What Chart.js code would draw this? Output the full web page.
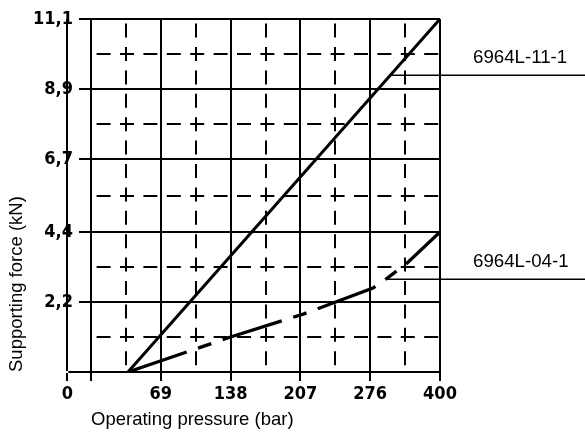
<!DOCTYPE html>
<html><head><meta charset="utf-8">
<script src="https://cdn.jsdelivr.net/npm/chart.js@4"></script>
<style>html,body{margin:0;padding:0;background:#fff}</style>
</head><body>
<canvas id="c" width="585" height="432"></canvas>
<script>
// x positions are given in grid columns (the pressure axis is schematic: 0, 69, 138, 207, 276, 400 bar)
const xTickPos = [-0.34, 0, 1, 2, 3, 4, 5];
const xTickLabels = ['0', '', '69', '138', '207', '276', '400'];
const xMinorPos = [0.5, 1.5, 2.5, 3.5, 4.5];
const yTickVals = [0, 2.2, 4.4, 6.7, 8.9, 11.1];
const yTickLabels = ['', '2,2', '4,4', '6,7', '8,9', '11,1'];
const yMinorVals = [1.1, 3.3, 5.55, 7.8, 10.0];
const seriesNames = ['6964L-11-1', '6964L-04-1'];
const s1X = [0.53, 5];
const s1Y = [0, 11.1];
const s2X = [0.53, 2, 3.04, 4.04, 4.25, 4.53, 5];
const s2Y = [0, 1.1, 1.82, 2.64, 2.96, 3.43, 4.4];
const leaderX = [4.28, 4.25];
const leaderY = [9.35, 2.94];

const near = (arr, v) => arr.findIndex(m => Math.abs(m - v) < 1e-6);
const tickFont = {family: "'Liberation Sans Narrow','DejaVu Sans Condensed',sans-serif", size: 18, weight: 'bold'};
const titleFont = {family: "'Liberation Sans',Arial,sans-serif", size: 18.5};

const annot = {
  id: 'annot',
  afterDraw(chart) {
    const {ctx, scales: {x, y}, chartArea} = chart;
    ctx.save();
    ctx.strokeStyle = '#000';
    ctx.lineWidth = 2;
    const y0 = Math.round(y.getPixelForValue(0));
    ctx.beginPath();
    ctx.moveTo(x.getPixelForValue(xTickPos[0]) + 1, y0);
    ctx.lineTo(chartArea.left, y0);
    ctx.stroke();
    ctx.lineWidth = 1.5;
    ctx.fillStyle = '#000';
    ctx.font = "18.7px 'Liberation Sans',Arial,sans-serif";
    ctx.textBaseline = 'middle';
    ctx.textAlign = 'left';
    for (let i = 0; i < seriesNames.length; i++) {
      const px = x.getPixelForValue(leaderX[i]);
      const py = Math.round(y.getPixelForValue(leaderY[i])) + 0.25;
      ctx.beginPath();
      ctx.moveTo(px, py);
      ctx.lineTo(chart.width, py);
      ctx.stroke();
      ctx.fillText(seriesNames[i], chartArea.right + 33, py - 17);
    }
    ctx.restore();
  }
};

new Chart(document.getElementById('c'), {
  type: 'line',
  data: {
    datasets: [
      {label: seriesNames[0], data: s1X.map((v, i) => ({x: v, y: s1Y[i]})), borderColor: '#000', borderWidth: 3, pointRadius: 0, fill: false},
      {label: seriesNames[1], data: s2X.map((v, i) => ({x: v, y: s2Y[i]})), borderColor: '#000', borderWidth: 3.3, borderDash: [62, 12, 14, 12], pointRadius: 0, fill: false}
    ]
  },
  options: {
    responsive: false, animation: false, devicePixelRatio: 1,
    layout: {padding: {left: 0, top: 19, right: 145, bottom: 0}},
    plugins: {legend: {display: false}, tooltip: {enabled: false}},
    scales: {
      x: {
        type: 'linear', min: 0, max: 5,
        afterBuildTicks: s => { s.ticks = [...xTickPos, ...xMinorPos].sort((a, b) => a - b).map(v => ({value: v})); },
        afterFit: s => { s.height = 60; },
        ticks: {autoSkip: false, maxRotation: 0, padding: 3, color: '#000', font: tickFont,
          callback: v => { const i = near(xTickPos, v); return i >= 0 ? xTickLabels[i] : ''; }},
        grid: {color: '#000', lineWidth: 2, tickLength: 9,
          tickColor: c => (c.tick && near(xMinorPos, c.tick.value) >= 0) ? 'rgba(0,0,0,0)' : '#000'},
        border: {display: true, color: '#000', width: 2,
          dash: c => (c.tick && near(xMinorPos, c.tick.value) >= 0) ? [14, 9.4] : [], dashOffset: 18.8},
        title: {display: true, text: 'Operating pressure (bar)', align: 'start', color: '#000', font: titleFont, padding: {top: 0, bottom: 1}}
      },
      y: {
        type: 'linear', min: 0, max: 11.1,
        afterBuildTicks: s => { s.ticks = [...yTickVals, ...yMinorVals].sort((a, b) => a - b).map(v => ({value: v})); },
        afterFit: s => { s.width = 91; },
        ticks: {autoSkip: false, padding: 6, color: '#000', font: tickFont,
          callback: v => { const i = near(yTickVals, v); return i >= 0 ? yTickLabels[i] : ''; }},
        grid: {color: '#000', lineWidth: 2, tickLength: 12,
          tickColor: c => (c.tick && near(yMinorVals, c.tick.value) >= 0) ? 'rgba(0,0,0,0)' : '#000'},
        border: {display: true, color: '#000', width: 2,
          dash: c => (c.tick && near(yMinorVals, c.tick.value) >= 0) ? [14, 9.4] : [], dashOffset: 18.8},
        title: {display: true, text: 'Supporting force (kN)', align: 'start', color: '#000', font: titleFont, padding: {top: 6, bottom: 0}}
      }
    }
  },
  plugins: [annot]
});
</script>
</body></html>
